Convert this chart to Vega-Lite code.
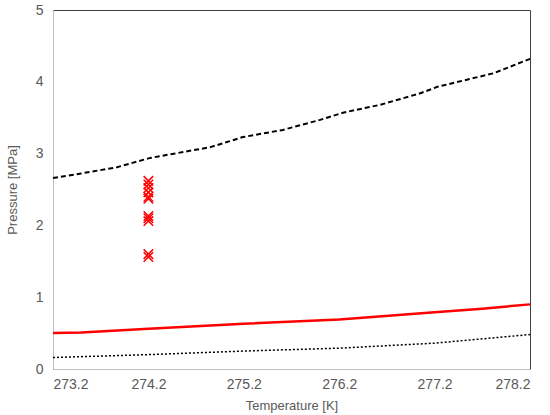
{
  "$schema": "https://vega.github.io/schema/vega-lite/v6.json",
  "width": 477,
  "height": 359,
  "autosize": {"type": "none"},
  "padding": {"left": 53, "top": 10, "right": 20, "bottom": 46},
  "background": "white",
  "config": {
    "view": {"stroke": "#404040", "strokeWidth": 1},
    "font": "Liberation Sans",
    "axis": {
      "grid": false,
      "ticks": false,
      "domainColor": "#bfbfbf",
      "labelColor": "#595959",
      "titleColor": "#595959",
      "labelFontSize": 14,
      "titleFontSize": 13,
      "titleFontWeight": "normal",
      "labelFont": "Liberation Sans",
      "titleFont": "Liberation Sans"
    }
  },
  "datasets": {
    "lines": [
      {"series": "upper", "T": 273.2, "P": 2.66},
      {"series": "upper", "T": 273.48, "P": 2.72},
      {"series": "upper", "T": 273.87, "P": 2.81},
      {"series": "upper", "T": 274.22, "P": 2.94},
      {"series": "upper", "T": 274.85, "P": 3.09},
      {"series": "upper", "T": 275.19, "P": 3.23},
      {"series": "upper", "T": 275.61, "P": 3.33},
      {"series": "upper", "T": 276.0, "P": 3.47},
      {"series": "upper", "T": 276.24, "P": 3.57},
      {"series": "upper", "T": 276.63, "P": 3.68},
      {"series": "upper", "T": 277.05, "P": 3.84},
      {"series": "upper", "T": 277.23, "P": 3.93},
      {"series": "upper", "T": 277.82, "P": 4.12},
      {"series": "upper", "T": 278.2, "P": 4.32},
      {"series": "red", "T": 273.2, "P": 0.50},
      {"series": "red", "T": 273.5, "P": 0.51},
      {"series": "red", "T": 274.2, "P": 0.56},
      {"series": "red", "T": 275.2, "P": 0.63},
      {"series": "red", "T": 276.2, "P": 0.69},
      {"series": "red", "T": 277.2, "P": 0.79},
      {"series": "red", "T": 277.7, "P": 0.84},
      {"series": "red", "T": 278.2, "P": 0.90},
      {"series": "lower", "T": 273.2, "P": 0.16},
      {"series": "lower", "T": 274.2, "P": 0.20},
      {"series": "lower", "T": 275.2, "P": 0.25},
      {"series": "lower", "T": 276.2, "P": 0.29},
      {"series": "lower", "T": 277.2, "P": 0.36},
      {"series": "lower", "T": 277.7, "P": 0.42},
      {"series": "lower", "T": 278.2, "P": 0.48}
    ],
    "points": [
      {"T": 274.2, "P": 2.62},
      {"T": 274.2, "P": 2.57},
      {"T": 274.2, "P": 2.52},
      {"T": 274.2, "P": 2.46},
      {"T": 274.2, "P": 2.40},
      {"T": 274.2, "P": 2.37},
      {"T": 274.2, "P": 2.13},
      {"T": 274.2, "P": 2.10},
      {"T": 274.2, "P": 2.06},
      {"T": 274.2, "P": 1.60},
      {"T": 274.2, "P": 1.56}
    ]
  },
  "layer": [
    {
      "data": {"name": "lines"},
      "transform": [{"filter": "datum.series === 'upper'"}],
      "mark": {"type": "line", "color": "black", "strokeWidth": 2, "strokeDash": [5, 3]},
      "encoding": {
        "x": {"field": "T", "type": "quantitative", "scale": {"domain": [273.2, 278.2], "nice": false, "zero": false},
              "axis": {"values": [273.2, 274.2, 275.2, 276.2, 277.2, 278.2], "format": ".1f", "title": "Temperature [K]", "labelPadding": 8, "titlePadding": 8}},
        "y": {"field": "P", "type": "quantitative", "scale": {"domain": [0, 5], "nice": false},
              "axis": {"values": [0, 0.5, 1, 1.5, 2, 2.5, 3, 3.5, 4, 4.5, 5], "format": "~g", "title": "Pressure [MPa]", "labelPadding": 10, "titlePadding": 16}}
      }
    },
    {
      "data": {"name": "lines"},
      "transform": [{"filter": "datum.series === 'red'"}],
      "mark": {"type": "line", "color": "#ff0000", "strokeWidth": 2.5},
      "encoding": {
        "x": {"field": "T", "type": "quantitative"},
        "y": {"field": "P", "type": "quantitative"}
      }
    },
    {
      "data": {"name": "lines"},
      "transform": [{"filter": "datum.series === 'lower'"}],
      "mark": {"type": "line", "color": "black", "strokeWidth": 1.5, "strokeDash": [2, 2]},
      "encoding": {
        "x": {"field": "T", "type": "quantitative"},
        "y": {"field": "P", "type": "quantitative"}
      }
    },
    {
      "data": {"name": "points"},
      "mark": {"type": "point", "shape": "M-1,-1L1,1M1,-1L-1,1", "filled": false, "stroke": "#ff0000", "strokeWidth": 1.5, "size": 90, "opacity": 1},
      "encoding": {
        "x": {"field": "T", "type": "quantitative"},
        "y": {"field": "P", "type": "quantitative"}
      }
    }
  ]
}
